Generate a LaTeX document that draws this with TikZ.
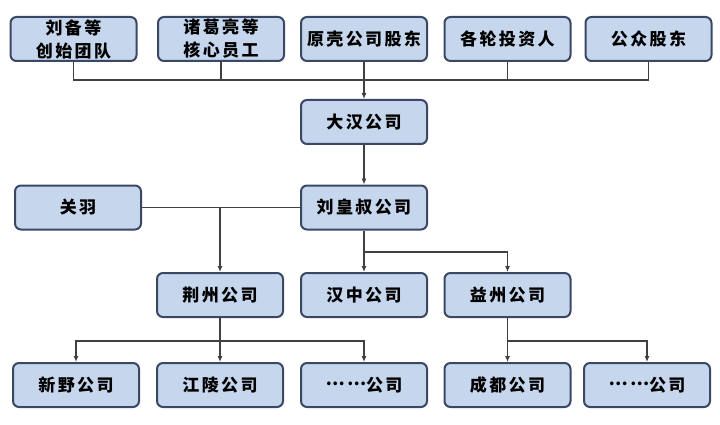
\documentclass[tikz,border=0pt]{standalone}
\usepackage{fontspec}
\newfontfamily\cjk[LetterSpace=14]{Noto Sans CJK SC}
\usetikzlibrary{arrows.meta}
\definecolor{boxfill}{RGB}{198,214,236}
\definecolor{boxline}{RGB}{58,72,102}
\definecolor{conn}{RGB}{64,64,64}
\newcommand{\midellip}{\raisebox{0.32em}{……}}
\tikzset{
  orgbox/.style={draw=boxline, line width=2pt, fill=boxfill, rounded corners=6pt,
    minimum width=126pt, minimum height=44pt, align=center, inner sep=0pt,
    font=\cjk\bfseries\fontsize{17}{23}\selectfont, text=black},
  link/.style={draw=conn, line width=1.1pt},
  arr/.style={link, -{Latex[length=6pt,width=5pt]}}
}
\begin{document}
\begin{tikzpicture}[x=1pt,y=-1pt]
\useasboundingbox (0,0) rectangle (720,425);
% row 1
\node[orgbox] (b1) at (73.5,39) {刘备等\\创始团队};
\node[orgbox] (b2) at (221,39) {诸葛亮等\\核心员工};
\node[orgbox] (b3) at (364,39) {原壳公司股东};
\node[orgbox] (b4) at (507.5,39) {各轮投资人};
\node[orgbox] (b5) at (648.5,39) {公众股东};
% row 2
\node[orgbox] (dh) at (364,122) {大汉公司};
% row 3
\node[orgbox] (gy) at (78,207.5) {关羽};
\node[orgbox] (lhs) at (364,207.5) {刘皇叔公司};
% row 4
\node[orgbox] (jz) at (220,295) {荆州公司};
\node[orgbox] (hz) at (364,295) {汉中公司};
\node[orgbox] (yz) at (507.5,295) {益州公司};
% row 5
\node[orgbox] (xy) at (76,385) {新野公司};
\node[orgbox] (jl) at (220,385) {江陵公司};
\node[orgbox] (d1) at (364,385) {\midellip 公司};
\node[orgbox] (cd) at (507.5,385) {成都公司};
\node[orgbox] (d2) at (647,385) {\midellip 公司};
% helper coordinates
\coordinate (h1) at (364,80);
\coordinate (h2) at (364,252);
\coordinate (h3) at (364,341);
% connectors row 1
\draw[link] (b1.south) -- (b1.south |- h1) -- (b5.south |- h1) -- (b5.south);
\draw[link] (b2.south) -- (b2.south |- h1);
\draw[link] (b4.south) -- (b4.south |- h1);
\draw[arr] (b3.south) -- (dh.north);
\draw[arr] (dh.south) -- (lhs.north);
% guanyu
\draw[link] (gy.east) -- (lhs.west);
\draw[arr] (jz.north |- gy.east) -- (jz.north);
% liu huangshu
\draw[arr] (lhs.south) -- (hz.north);
\draw[arr] (h2) -| (yz.north);
% jingzhou
\draw[arr] (jz.south) -- (jl.north);
\draw[arr] (jz.south |- h3) -| (xy.north);
\draw[arr] (jz.south |- h3) -| (d1.north);
% yizhou
\draw[arr] (yz.south) -- (cd.north);
\draw[arr] (yz.south |- h3) -| (d2.north);
\end{tikzpicture}
\end{document}
